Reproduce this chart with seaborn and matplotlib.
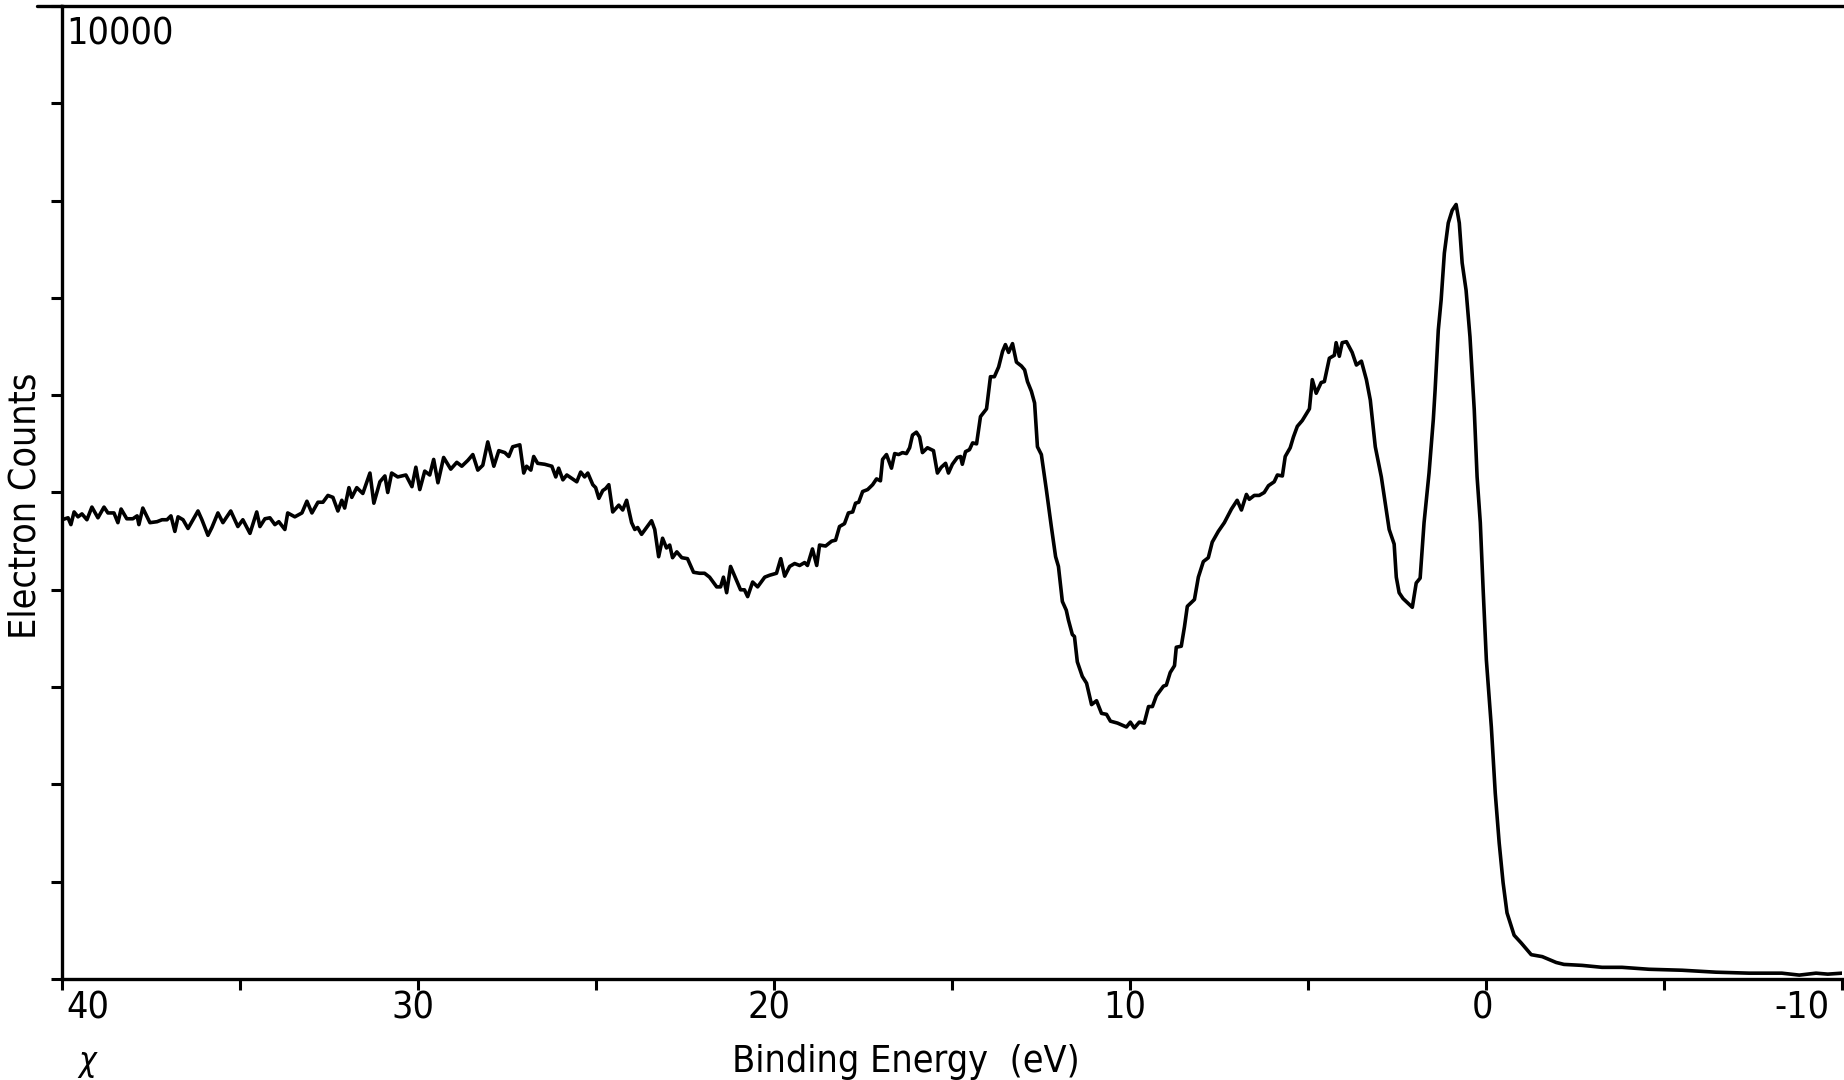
import numpy as np
import pandas as pd
import seaborn as sns
import matplotlib
matplotlib.use("Agg")
import matplotlib.pyplot as plt
from matplotlib import font_manager
from matplotlib.lines import Line2D
from matplotlib.transforms import ScaledTranslation

# spectrum, split in pieces (binding energy in eV, counts)
be_tail = [40.00, 39.83, 39.75, 39.66, 39.55, 39.44, 39.30, 39.16, 38.99, 38.82,
           38.71, 38.54, 38.43, 38.34, 38.18, 38.01, 37.89, 37.84, 37.73, 37.53,
           37.33, 37.19, 37.05, 36.94, 36.83, 36.74, 36.60, 36.46, 36.18, 36.07,
           35.90, 35.79, 35.62, 35.48, 35.26, 35.06, 34.92, 34.72, 34.53, 34.44,
           34.30, 34.16, 34.02, 33.91, 33.74, 33.66, 33.46, 33.26, 33.12, 32.98,
           32.81, 32.67, 32.53, 32.39, 32.25, 32.14, 32.06, 31.94, 31.86, 31.72,
           31.55, 31.35, 31.24, 31.07, 30.93, 30.85, 30.74, 30.57, 30.34, 30.17,
           30.06, 29.95, 29.81, 29.67, 29.56, 29.44, 29.28, 29.08, 28.91, 28.77,
           28.60]
cts_tail = [4720, 4740, 4670, 4800, 4750, 4780, 4720, 4850, 4740, 4850,
            4790, 4790, 4690, 4830, 4730, 4730, 4760, 4670, 4840, 4690,
            4700, 4720, 4720, 4760, 4600, 4750, 4720, 4630, 4810, 4720,
            4560, 4640, 4790, 4690, 4810, 4650, 4720, 4580, 4800, 4650,
            4730, 4740, 4670, 4700, 4620, 4790, 4750, 4790, 4910, 4790,
            4900, 4900, 4970, 4950, 4810, 4920, 4840, 5050, 4950, 5050,
            4990, 5200, 4890, 5110, 5170, 5000, 5200, 5160, 5180, 5060,
            5260, 5030, 5220, 5180, 5340, 5100, 5360, 5240, 5310, 5270,
            5330]

be_hump = [28.46, 28.32, 28.18, 28.04, 27.87, 27.73, 27.56, 27.45, 27.34, 27.14,
           27.03, 26.95, 26.83, 26.75, 26.64, 26.44, 26.24, 26.13, 26.05, 25.93,
           25.82, 25.54, 25.43, 25.32, 25.23, 25.09, 25.01, 24.92, 24.81, 24.73,
           24.64, 24.53, 24.36, 24.25, 24.14, 24.00, 23.91, 23.83, 23.72, 23.58,
           23.44, 23.35, 23.24, 23.13, 23.02, 22.93, 22.85, 22.73, 22.59, 22.43,
           22.26, 22.09, 21.95, 21.81, 21.61, 21.50, 21.42, 21.33, 21.22, 21.08,
           20.94, 20.83, 20.74, 20.60, 20.46, 20.26, 20.12, 19.93, 19.81, 19.70,
           19.56, 19.42, 19.28, 19.14, 19.06, 18.92, 18.80, 18.72, 18.55, 18.38,
           18.27]
cts_hump = [5390, 5230, 5280, 5520, 5270, 5430, 5410, 5370, 5470, 5490,
            5200, 5270, 5230, 5370, 5300, 5290, 5270, 5160, 5250, 5130,
            5180, 5110, 5210, 5160, 5200, 5080, 5050, 4940, 5020, 5040,
            5080, 4800, 4870, 4820, 4920, 4690, 4620, 4640, 4570, 4640,
            4710, 4620, 4340, 4530, 4430, 4460, 4330, 4390, 4330, 4320,
            4180, 4170, 4170, 4130, 4030, 4030, 4130, 3970, 4240, 4120,
            4000, 4000, 3930, 4080, 4030, 4130, 4150, 4170, 4320, 4140,
            4240, 4270, 4250, 4280, 4250, 4420, 4250, 4460, 4450, 4500,
            4510]

be_o2s = [18.16, 18.02, 17.91, 17.79, 17.71, 17.62, 17.51, 17.37, 17.23, 17.12,
          17.01, 16.95, 16.84, 16.70, 16.61, 16.50, 16.39, 16.28, 16.19, 16.11,
          16.00, 15.91, 15.83, 15.69, 15.52, 15.41, 15.30, 15.18, 15.10, 14.99,
          14.85, 14.76, 14.71, 14.62, 14.51, 14.42, 14.31, 14.20, 14.03, 13.92,
          13.81, 13.69, 13.58, 13.50, 13.41, 13.30, 13.19, 13.05, 12.96, 12.88,
          12.77, 12.68, 12.60, 12.49, 12.35, 12.21, 12.09, 12.01, 11.90, 11.79]
cts_o2s = [4650, 4680, 4790, 4800, 4890, 4900, 5010, 5030, 5080, 5140,
           5120, 5340, 5390, 5250, 5400, 5390, 5410, 5400, 5460, 5590,
           5620, 5570, 5410, 5460, 5430, 5200, 5260, 5300, 5200, 5290,
           5360, 5370, 5290, 5420, 5440, 5510, 5500, 5780, 5860, 6190,
           6190, 6290, 6450, 6520, 6440, 6530, 6340, 6300, 6260, 6140,
           6040, 5920, 5470, 5390, 5030, 4650, 4340, 4240, 3880, 3790]

be_valence = [11.73, 11.62, 11.56, 11.48, 11.34, 11.22, 11.08, 10.94, 10.80, 10.66,
              10.55, 10.35, 10.10, 9.99, 9.88, 9.74, 9.60, 9.48, 9.37, 9.26,
              9.06, 8.98, 8.87, 8.75, 8.70, 8.56, 8.47, 8.39, 8.19, 8.08,
              7.94, 7.80, 7.69, 7.52, 7.35, 7.15, 6.99, 6.87, 6.73, 6.65,
              6.51, 6.37, 6.23, 6.11, 5.95, 5.86, 5.72, 5.64, 5.50, 5.41,
              5.30, 5.16, 4.96, 4.88, 4.77, 4.63, 4.54, 4.40, 4.26, 4.21,
              4.12, 4.04, 3.92, 3.76, 3.64, 3.50, 3.36, 3.25, 3.11, 2.94,
              2.83, 2.72, 2.58, 2.52, 2.44, 2.33, 2.07, 1.96, 1.85, 1.74,
              1.60, 1.48, 1.43, 1.34, 1.26, 1.17, 1.06, 0.95, 0.84]
cts_valence = [3690, 3540, 3520, 3260, 3110, 3040, 2820, 2860, 2730, 2720,
               2650, 2630, 2590, 2640, 2580, 2640, 2630, 2800, 2800, 2910,
               3010, 3020, 3150, 3220, 3410, 3420, 3620, 3830, 3900, 4130,
               4290, 4330, 4490, 4600, 4690, 4830, 4920, 4820, 4980, 4930,
               4970, 4970, 5000, 5070, 5110, 5180, 5170, 5370, 5460, 5570,
               5680, 5740, 5860, 6160, 6020, 6130, 6140, 6380, 6410, 6540,
               6400, 6540, 6550, 6440, 6310, 6350, 6160, 5950, 5470, 5160,
               4890, 4620, 4470, 4130, 3970, 3910, 3820, 4070, 4120, 4690,
               5200, 5750, 6050, 6670, 6980, 7460, 7770, 7900, 7960]

be_edge = [0.75, 0.67, 0.56, 0.45, 0.33, 0.25, 0.16, 0.08, -0.01, -0.15,
           -0.26, -0.37, -0.48, -0.59, -0.79, -0.99, -1.27, -1.58, -1.97, -2.19,
           -2.70, -3.26, -3.82, -4.58, -5.51, -6.46, -7.39, -8.31, -8.80, -9.27,
           -9.60, -10.00]
cts_edge = [7770, 7360, 7080, 6600, 5850, 5160, 4690, 4000, 3280, 2590,
            1910, 1400, 990, 680, 450, 370, 250, 230, 170, 150,
            140, 120, 120, 100, 90, 70, 60, 60, 40, 60,
            50, 60]

x_ticks = [40, 35, 30, 25, 20, 15, 10, 5, 0, -5, -10]
x_tick_labels = ["40", "", "30", "", "20", "", "10", "", "0", "", "-10"]
y_ticks = list(range(0, 10001, 1000))

energy = be_tail + be_hump + be_o2s + be_valence + be_edge
counts = cts_tail + cts_hump + cts_o2s + cts_valence + cts_edge
df = pd.DataFrame({"be": energy, "counts": counts})

sns.set_style("ticks")
names = {f.name for f in font_manager.fontManager.ttflist}
if "Liberation Sans Narrow" in names:
    plt.rcParams["font.family"] = ["Liberation Sans Narrow", "DejaVu Sans"]
else:
    plt.rcParams["font.family"] = ["DejaVu Sans"]
    plt.rcParams["font.stretch"] = "condensed"
plt.rcParams["font.size"] = 27
plt.rcParams["text.color"] = "black"
plt.rcParams["xtick.color"] = "black"
plt.rcParams["ytick.color"] = "black"
plt.rcParams["xtick.labelcolor"] = "black"

W, H = 1844, 1080
fig = plt.figure(figsize=(W / 100, H / 100), dpi=100)
ax = fig.add_axes([62 / W, 1 - 979 / H, 1780 / W, 973 / H])

sns.lineplot(data=df, x="be", y="counts", sort=False, estimator=None,
             color="black", linewidth=2.6, ax=ax)

ax.set_xlim(40, -10)
ax.set_ylim(0, 10000)
ax.set_xlabel("")
ax.set_ylabel("")
ax.set_xticks(x_ticks)
ax.set_xticklabels(x_tick_labels)
ax.set_yticks(y_ticks)
ax.set_yticklabels([])
ax.tick_params(axis="both", direction="out", length=8, width=2.2, color="black",
               labelcolor="black", labelsize=27, pad=0.5)

for s in ["left", "bottom", "top"]:
    ax.spines[s].set_linewidth(2.4)
    ax.spines[s].set_color("black")
ax.spines["right"].set_visible(False)

# top line runs a bit past the left axis
ax.add_line(Line2D([-25 / 1780, 0], [1, 1], transform=ax.transAxes,
                   color="black", linewidth=2.4, clip_on=False))

# nudge tick labels like the plotter did
shifts = {"40": 4, "30": -5, "20": -5, "10": -5, "0": -4, "-10": -12}
for lab in ax.get_xticklabels():
    dx = shifts.get(lab.get_text(), 0)
    lab.set_transform(lab.get_transform() + ScaledTranslation(dx / 100, 0, fig.dpi_scale_trans))
    if lab.get_text() == "40":
        lab.set_ha("left")
    elif lab.get_text() == "-10":
        lab.set_ha("right")

ax.text(0.0025, 0.989, "10000", transform=ax.transAxes, ha="left", va="top", fontsize=27)
fig.text(26 / W, 1 - 506 / H, "Electron Counts", rotation=90, ha="center", va="center", fontsize=27)
fig.text(906 / W, 1 - 1062 / H, "Binding Energy  (eV)", ha="center", va="center", fontsize=27)
# handwritten mark in the lower left corner of the scan
fig.text(78 / W, 2 / H, "χ", ha="left", va="bottom", fontsize=24, fontstyle="italic",
         family=["DejaVu Sans"])

fig.savefig("out.png", dpi=100, facecolor="white")
